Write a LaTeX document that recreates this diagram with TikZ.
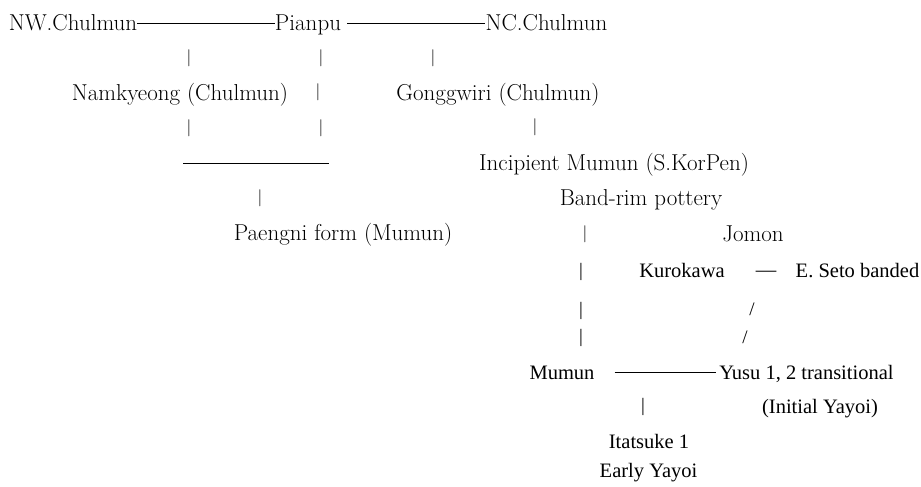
\documentclass[tikz,border=0pt]{standalone}
\usepackage{fontspec}
\newfontfamily\timesfont{Liberation Serif}
\usepackage{tikz}

\begin{document}
\begin{tikzpicture}[x=1pt, y=-1pt,
	lm/.style={inner sep=0pt, font=\fontsize{23}{27}\selectfont, text height=16pt, text depth=0pt},
	tm/.style={inner sep=0pt, font=\timesfont\fontsize{20.5}{24}\selectfont, text height=13.6pt, text depth=0pt},
	lmbar/.style={inner sep=0pt, font=\fontsize{17}{20}\selectfont},
	tmbar/.style={inner sep=0pt, font=\timesfont\fontsize{19}{22}\selectfont},
	rule/.style={line width=0.8pt}]

				\useasboundingbox (0, 0) rectangle (921, 487);

				% Chulmun row
				\node [lm] (NW) at (73, 23) {NW.Chulmun};
				\node [lm] (PP) at (308, 23) {Pianpu};
				\node [lm] (NC) at (546.5, 23) {NC.Chulmun};
				\draw [rule] (NW.east) -- (PP.west);
				\draw [rule, shorten <=6pt] (PP.east) -- (NC.west);

				\node [lmbar] (b1) at (189, 58) {|};
				\node [lmbar] (b2) at (321, 58) {|};
				\node [lmbar] (b3) at (433, 58) {|};

				\node [lm] (NK) at (180, 92.5) {Namkyeong (Chulmun)};
				\node [lmbar] (b4) at (318, 92) {|};
				\node [lm] (GG) at (498, 92) {Gonggwiri (Chulmun)};

				\node [lmbar] (b5) at (189, 128) {|};
				\node [lmbar] (b6) at (321, 128) {|};
				\node [lmbar] (b7) at (535, 127) {|};

				\coordinate (j1) at (183, 163);
				\coordinate (j2) at (329, 163);
				\draw [rule] (j1) -- (j2);
				\node [lm] (IM) at (614, 162.5) {Incipient Mumun (S.KorPen)};

				\node [lmbar] (b8) at (260, 198) {|};
				\node [lm] (BR) at (641, 197.5) {Band-rim pottery};

				\node [lm] (PF) at (343, 232) {Paengni form (Mumun)};
				\node [lmbar] (b9) at (585, 234) {|};
				\node [lm] (JO) at (753, 233) {Jomon};

				% Japan side
				\node [tmbar] (b10) at (581, 272) {|};
				\node [tm] (KU) at (682, 270.5) {Kurokawa};
				\node [tm] (d1) at (766, 270) {—};
				\node [tm] (ES) at (857.5, 270.5) {E. Seto banded};

				\node [tmbar] (b11) at (581, 311) {|};
				\node [tmbar] (s1) at (752, 309) {/};
				\node [tmbar] (b12) at (581, 338) {|};
				\node [tmbar] (s2) at (745, 337) {/};

				\node [tm] (MU) at (562, 372.5) {Mumun};
				\node [tm] (YU) at (806.5, 372.5) {Yusu 1, 2 transitional};
				\draw [rule, shorten <=20pt, shorten >=3pt] (MU.east) -- (YU.west);

				\node [tmbar] (b13) at (643, 407) {|};
				\node [tm] (IY) at (820, 407) {(Initial Yayoi)};
				\node [tm] (IT) at (649, 441.5) {Itatsuke 1};
				\node [tm] (EY) at (648.5, 471) {Early Yayoi};
		\end{tikzpicture}
\end{document}
